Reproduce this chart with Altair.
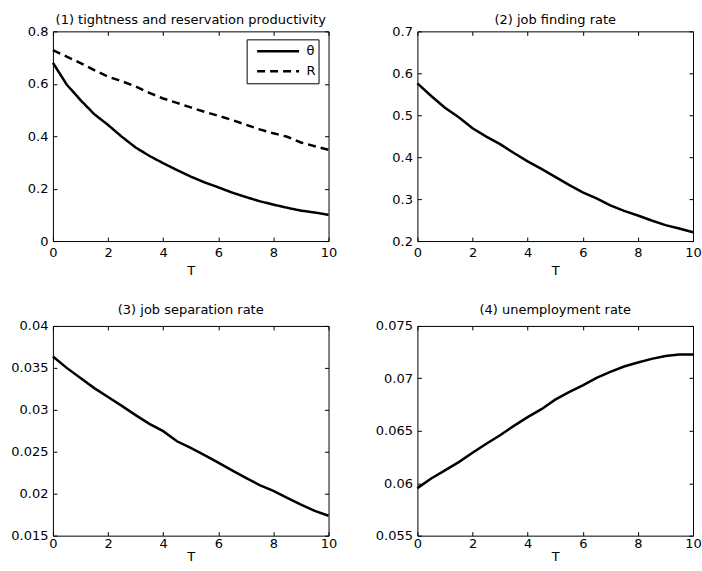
import altair as alt
import pandas as pd

# ---------------- data ----------------
T = [0, 0.5, 1, 1.5, 2, 2.5, 3, 3.5, 4, 4.5, 5, 5.5, 6, 6.5, 7, 7.5, 8, 8.5, 9, 9.5, 10]

theta = [0.680, 0.597, 0.538, 0.484, 0.443, 0.398, 0.357, 0.325, 0.297, 0.271, 0.246,
         0.224, 0.205, 0.185, 0.168, 0.152, 0.139, 0.127, 0.116, 0.109, 0.100]
R = [0.728, 0.704, 0.679, 0.652, 0.627, 0.610, 0.590, 0.565, 0.544, 0.527, 0.510,
     0.493, 0.478, 0.462, 0.444, 0.426, 0.411, 0.398, 0.376, 0.362, 0.348]
job_finding = [0.576, 0.546, 0.518, 0.495, 0.469, 0.449, 0.431, 0.410, 0.390, 0.372, 0.353,
               0.334, 0.316, 0.302, 0.285, 0.272, 0.261, 0.249, 0.238, 0.230, 0.221]
job_separation = [0.03636, 0.03500, 0.03378, 0.03259, 0.03153, 0.03047, 0.02937, 0.02832,
                  0.02746, 0.02625, 0.02545, 0.02461, 0.02370, 0.02278, 0.02188, 0.02103,
                  0.02033, 0.01951, 0.01870, 0.01795, 0.01737]
unemployment = [0.05953, 0.06045, 0.06122, 0.06201, 0.06291, 0.06377, 0.06458, 0.06547,
                0.06630, 0.06706, 0.06797, 0.06868, 0.06934, 0.07004, 0.07062, 0.07113,
                0.07152, 0.07186, 0.07214, 0.07228, 0.07228]

series_names = ["θ", "R"]
x_ticks = [0, 2, 4, 6, 8, 10]
y_ticks_1 = [0, 0.2, 0.4, 0.6, 0.8]
y_ticks_2 = [0.2, 0.3, 0.4, 0.5, 0.6, 0.7]
y_ticks_3 = [0.015, 0.02, 0.025, 0.03, 0.035, 0.04]
y_ticks_4 = [0.055, 0.06, 0.065, 0.07, 0.075]

titles = ["(1) tightness and reservation productivity", "(2) job finding rate",
          "(3) job separation rate", "(4) unemployment rate"]

# ---------------- styling ----------------
FONT = "DejaVu Sans"
FS = 13
W, H = 276, 210

common_axis = dict(domain=False, grid=False, ticks=True, tickSize=4, tickColor="black",
                   tickWidth=1, offset=-4, labelFont=FONT, labelFontSize=FS,
                   labelColor="black", titleFont=FONT, titleFontSize=FS,
                   titleFontWeight="normal", titleColor="black", labelFlush=False,
                   labelOverlap=False)


def x_axis_bottom(top_row):
    lp, tp = (5, 5) if top_row else (2, 0)
    return alt.Axis(values=x_ticks, format="d", title="T", orient="bottom",
                    labelPadding=lp, titlePadding=tp, **common_axis)


def y_axis_left(vals):
    return alt.Axis(values=vals, format="~g", title=None, orient="left",
                    labelPadding=5, minExtent=46, maxExtent=46, **common_axis)


def x_axis_top():
    return alt.Axis(values=x_ticks, labels=False, title=None, orient="top",
                    minExtent=0, maxExtent=0, **common_axis)


def y_axis_right(vals):
    return alt.Axis(values=vals, labels=False, title=None, orient="right",
                    minExtent=0, maxExtent=0, **common_axis)


def panel(df, yvals, ydomain, title, top_row, legend=False):
    xs = alt.Scale(domain=[0, 10], nice=False, zero=False)
    ys = alt.Scale(domain=ydomain, nice=False, zero=False)
    enc = dict(
        x=alt.X("T:Q", scale=xs, axis=x_axis_bottom(top_row)),
        y=alt.Y("value:Q", scale=ys, axis=y_axis_left(yvals)),
    )
    if legend:
        enc["strokeDash"] = alt.StrokeDash(
            "series:N",
            scale=alt.Scale(domain=series_names, range=[[1, 0], [8, 5]]),
            legend=alt.Legend(
                title=None, orient="none", legendX=194, legendY=8,
                direction="vertical", strokeColor="black", fillColor="white",
                padding=2, clipHeight=20, rowPadding=0, symbolType="stroke",
                symbolSize=1764, symbolStrokeWidth=2.5, symbolStrokeColor="black",
                symbolOffset=7, labelOffset=6, labelFont=FONT, labelFontSize=FS,
                labelColor="black",
                labelExpr="datum.label + '\u2002\u00a0'",
            ),
        )
    main = alt.Chart(df).mark_line(color="black", strokeWidth=2.5).encode(**enc)
    frame_enc = dict(
        x=alt.X("T:Q", scale=xs, axis=x_axis_top()),
        y=alt.Y("value:Q", scale=ys, axis=y_axis_right(yvals)),
    )
    if legend:
        frame_enc["detail"] = alt.Detail("series:N")
    ticks_layer = alt.Chart(df).mark_line(strokeOpacity=0).encode(**frame_enc)
    offset = -1.5 if top_row else 2.5
    return alt.layer(main, ticks_layer).resolve_axis(
        x="independent", y="independent"
    ).properties(
        width=W, height=H,
        title=alt.TitleParams(text=title, font=FONT, fontSize=FS, fontWeight="normal",
                              color="black", offset=offset, anchor="middle"),
    )


df1 = pd.DataFrame({
    "T": T + T,
    "value": theta + R,
    "series": [series_names[0]] * len(T) + [series_names[1]] * len(T),
})
df2 = pd.DataFrame({"T": T, "value": job_finding})
df3 = pd.DataFrame({"T": T, "value": job_separation})
df4 = pd.DataFrame({"T": T, "value": unemployment})

p1 = panel(df1, y_ticks_1, [0, 0.8], titles[0], True, legend=True)
p2 = panel(df2, y_ticks_2, [0.2, 0.7], titles[1], True)
p3 = panel(df3, y_ticks_3, [0.015, 0.04], titles[2], False)
p4 = panel(df4, y_ticks_4, [0.055, 0.075], titles[3], False)

row1 = alt.hconcat(p1, p2, spacing=37)
row2 = alt.hconcat(p3, p4, spacing=37)

chart = alt.vconcat(row1, row2, spacing=26).properties(
    padding={"left": 10, "top": 13, "right": 0, "bottom": 4},
    background="white",
).configure_view(stroke="black", strokeWidth=1)

chart.save("out.html", embed_options={"renderer": "svg", "actions": False})
